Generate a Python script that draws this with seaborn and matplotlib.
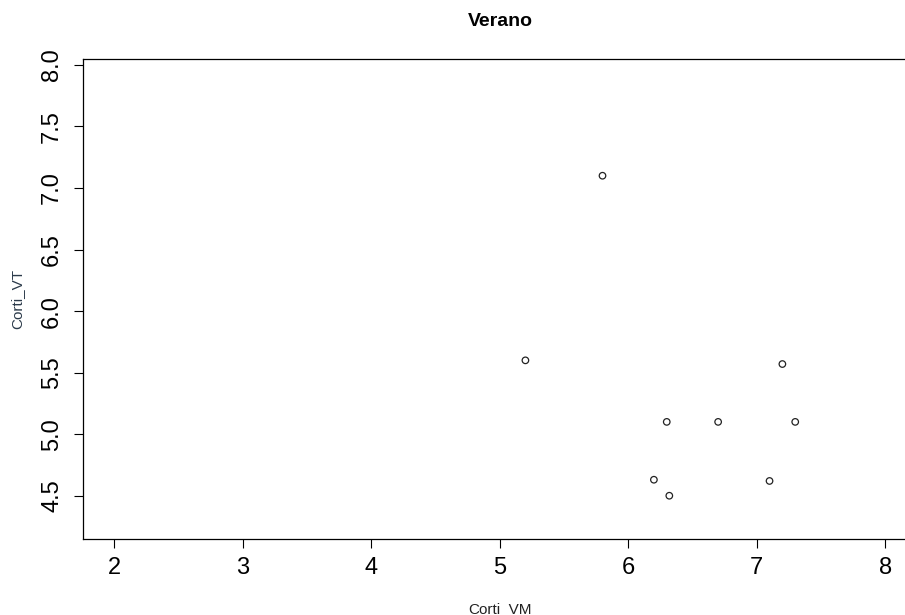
import matplotlib
matplotlib.use("Agg")
import matplotlib.pyplot as plt
import seaborn as sns
import pandas as pd

# Data
corti_vm = [5.8, 5.2, 7.2, 6.3, 6.7, 7.3, 6.2, 7.1, 6.32]
corti_vt = [7.1, 5.6, 5.57, 5.1, 5.1, 5.1, 4.63, 4.62, 4.5]
x_ticks = [2, 3, 4, 5, 6, 7, 8]
y_ticks = [4.5, 5.0, 5.5, 6.0, 6.5, 7.0, 7.5, 8.0]
title = "Verano"
x_label = "Corti_VM"
y_label = "Corti_VT"

df = pd.DataFrame({"Corti_VM": corti_vm, "Corti_VT": corti_vt})

sns.set_style("ticks")
plt.rcParams["font.family"] = ["Liberation Sans", "DejaVu Sans"]

W, H = 905, 615
fig = plt.figure(figsize=(W / 100, H / 100), dpi=100)
left, right, top, bottom = 83.3, 916.0, 59.3, 539.3
ax = fig.add_axes([left / W, (H - bottom) / H, (right - left) / W, (bottom - top) / H])

sns.scatterplot(data=df, x="Corti_VM", y="Corti_VT", ax=ax, marker="o",
                s=22, facecolor="none", edgecolor="#222222", linewidth=0.9)

ax.set_xlim(1.759, 8.24)
ax.set_ylim(4.146, 8.046)
ax.set_xticks(x_ticks)
ax.set_xticklabels([str(v) for v in x_ticks])
ax.set_yticks(y_ticks)
ax.set_yticklabels([f"{v:.1f}" for v in y_ticks], rotation=90, va="center")
ax.tick_params(axis="both", length=6.5, width=0.8, color="black",
               labelsize=17, labelcolor="black")
ax.tick_params(axis="x", pad=6)
ax.tick_params(axis="y", pad=8)
ax.set_xlabel("")
ax.set_ylabel("")
for sp in ["left", "bottom", "top", "right"]:
    ax.spines[sp].set_visible(True)
    ax.spines[sp].set_color("black")
    ax.spines[sp].set_linewidth(0.9)

fig.text(500 / W, 1 - 21 / H, title, ha="center", va="center",
         fontsize=14, fontweight="bold", color="black")
fig.text(500 / W, 1 - 613 / H, x_label, ha="center", va="baseline",
         fontsize=11, color="#222222")
fig.text(17 / W, 1 - 299 / H, y_label, ha="center", va="center",
         rotation=90, fontsize=11, color="#2b3a4a")

fig.savefig("out.png", dpi=100)
